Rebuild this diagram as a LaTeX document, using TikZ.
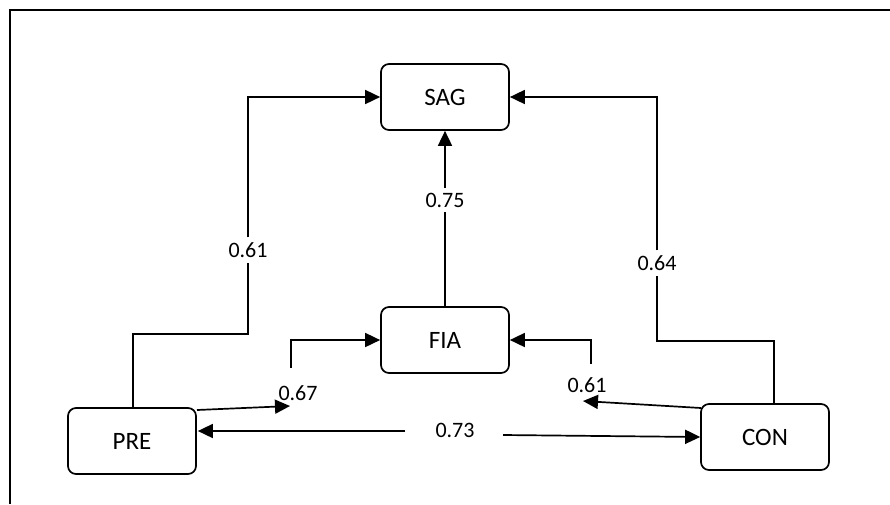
\documentclass[tikz,border=0pt]{standalone}
\usepackage{fontspec}
\setmainfont{Carlito}
\usetikzlibrary{arrows.meta,calc}
\begin{document}
\begin{tikzpicture}[x=1pt,y=-1pt,
  box/.style={draw,line width=1.7pt,rounded corners=8pt,minimum width=128pt,minimum height=66pt,inner sep=0pt,font=\fontsize{25}{30}\selectfont},
  lab/.style={inner sep=5pt,font=\fontsize{22}{26}\selectfont},
  con/.style={line width=1.7pt},
  arr/.style={con,-{Triangle[length=15pt,width=14pt]}}]
\useasboundingbox (0,0) rectangle (890,504);
\draw[line width=2.2pt] (10,504) -- (10,10) -- (890,10);
\node[box] (sag) at (445,97) {SAG};
\node[box] (fia) at (445,340) {FIA};
\node[box] (pre) at (132,441) {PRE};
\node[box] (con) at (765,437) {CON};
\node[lab] (l61a) at (248,250) {0.61};
\node[lab] (l64) at (657,263) {0.64};
\node[lab] (l75) at (445,200) {0.75};
\node[lab] (l67) at (298,393) {0.67};
\node[lab] (l61b) at (587,385) {0.61};
\node[lab] (l73) at (455,430) {0.73};
\coordinate (c1) at (248,334);
\coordinate (c2) at (657,341);
\coordinate (s67) at (197,410);
\coordinate (e67) at (290,406);
\coordinate (b67) at (291,368);
\coordinate (s61) at (701,408);
\coordinate (e61) at (583,401);
\coordinate (b61) at (591,364);
\coordinate (a73) at (405,431);
\coordinate (b73) at (503,435);
% PRE -> SAG
\draw[con] ($(pre.north)+(1,0)$) |- (c1) -- (l61a.south);
\draw[arr] (l61a.north) |- (sag.west);
% CON -> SAG
\draw[con] ($(con.north)+(9,0)$) |- (c2) -- (l64.south);
\draw[arr] (l64.north) |- (sag.east);
% FIA -> SAG
\draw[con] (fia.north) -- (l75.south);
\draw[arr] (l75.north) -- (sag.south);
% PRE -> FIA
\draw[arr] (s67) -- (e67);
\draw[arr] (b67) |- (fia.west);
% CON -> FIA
\draw[arr] (s61) -- (e61);
\draw[arr] (b61) |- (fia.east);
% PRE <-> CON
\draw[arr] (a73) -- ($(pre.east)+(1,-10)$);
\draw[arr] (b73) -- (con.west);
\end{tikzpicture}
\end{document}
